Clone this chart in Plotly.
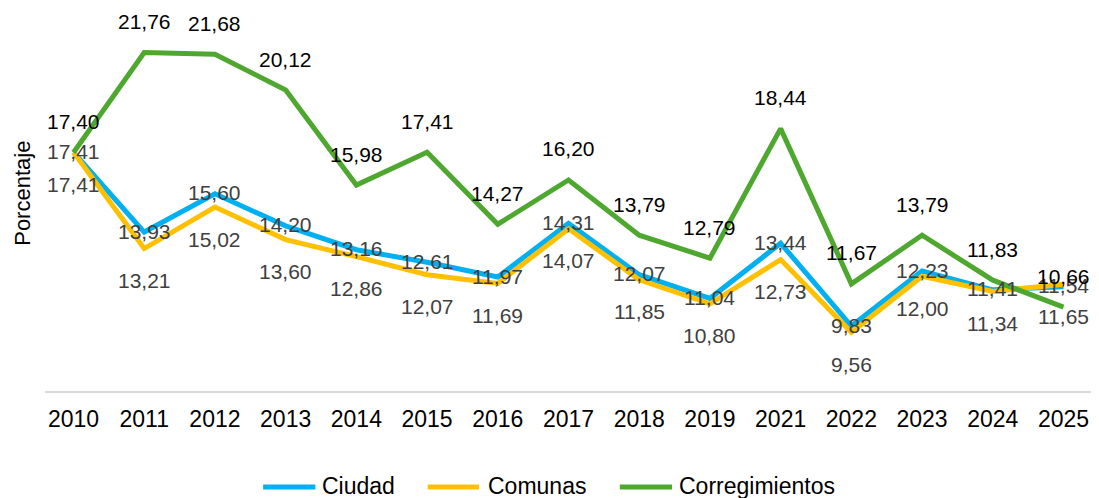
import plotly.graph_objects as go

years = ["2010", "2011", "2012", "2013", "2014", "2015", "2016", "2017",
         "2018", "2019", "2021", "2022", "2023", "2024", "2025"]
ciudad = [17.41, 13.93, 15.60, 14.20, 13.16, 12.61, 11.97, 14.31, 12.07, 11.04, 13.44, 9.83, 12.23, 11.41, 11.54]
comunas = [17.41, 13.21, 15.02, 13.60, 12.86, 12.07, 11.69, 14.07, 11.85, 10.80, 12.73, 9.56, 12.00, 11.34, 11.65]
corregimientos = [17.40, 21.76, 21.68, 20.12, 15.98, 17.41, 14.27, 16.20, 13.79, 12.79, 18.44, 11.67, 13.79, 11.83, 10.66]

OY = 8        # vertical page offset
SX = 1.015    # observed horizontal screen/figure ratio
W, H = 1091, 490
ML, MR, MT, MB = 37, 7, 16, 107
PW = W - ML - MR
PH = H - MT - MB
FONT = "Liberation Sans, Arial, sans-serif"

series = [
    ("Ciudad", ciudad, "#00B0F0", "#404040", 1),
    ("Comunas", comunas, "#FFC000", "#404040", -32),
    ("Corregimientos", corregimientos, "#4EA72E", "#000000", 31),
]

def px_x(px):
    return (px / SX - ML) / PW

def px_y(py):
    return (H - MB - (py - OY)) / PH

fig = go.Figure()
annotations = []
shapes = []
legend_pos = [(259, 312, 317), (426, 478, 485), (621, 674, 679)]
for (name, vals, color, tcolor, shift), (lx0, lx1, tx) in zip(series, legend_pos):
    fig.add_trace(go.Scatter(x=years, y=vals, mode="lines", name=name,
                             line=dict(color=color, width=5), showlegend=False))
    for i, v in enumerate(vals):
        annotations.append(dict(x=i, y=v, xref="x", yref="y",
                                text=f"{v:.2f}".replace(".", ","),
                                showarrow=False, yshift=shift,
                                font=dict(family=FONT, size=21, color=tcolor)))
    shapes.append(dict(type="line", xref="paper", yref="paper",
                       x0=px_x(lx0), x1=px_x(lx1), y0=px_y(487), y1=px_y(487),
                       line=dict(color=color, width=5)))
    annotations.append(dict(x=px_x(tx), y=px_y(486), xref="paper", yref="paper",
                            xanchor="left", yanchor="middle", text=name, showarrow=False,
                            font=dict(family=FONT, size=23, color="#000000")))

annotations.append(dict(x=px_x(14), y=px_y(193), xref="paper", yref="paper",
                        text="Porcentaje", textangle=-90, showarrow=False,
                        xanchor="center", yanchor="middle",
                        font=dict(family=FONT, size=22, color="#000000")))

fig.update_layout(
    width=W, height=H,
    paper_bgcolor="white", plot_bgcolor="white",
    margin=dict(l=ML, r=MR, t=MT, b=MB),
    font=dict(family=FONT, size=23, color="#000000"),
    annotations=annotations,
    shapes=shapes,
    showlegend=False,
    xaxis=dict(type="category", showgrid=False, showline=True, linecolor="#D9D9D9",
               linewidth=2, ticks="outside", ticklen=6, tickcolor="rgba(0,0,0,0)",
               tickfont=dict(family=FONT, size=23, color="#000000")),
    yaxis=dict(range=[7.0, 23.0], showgrid=False, showticklabels=False, zeroline=False,
               showline=False),
)

fig.write_html("out.html")
